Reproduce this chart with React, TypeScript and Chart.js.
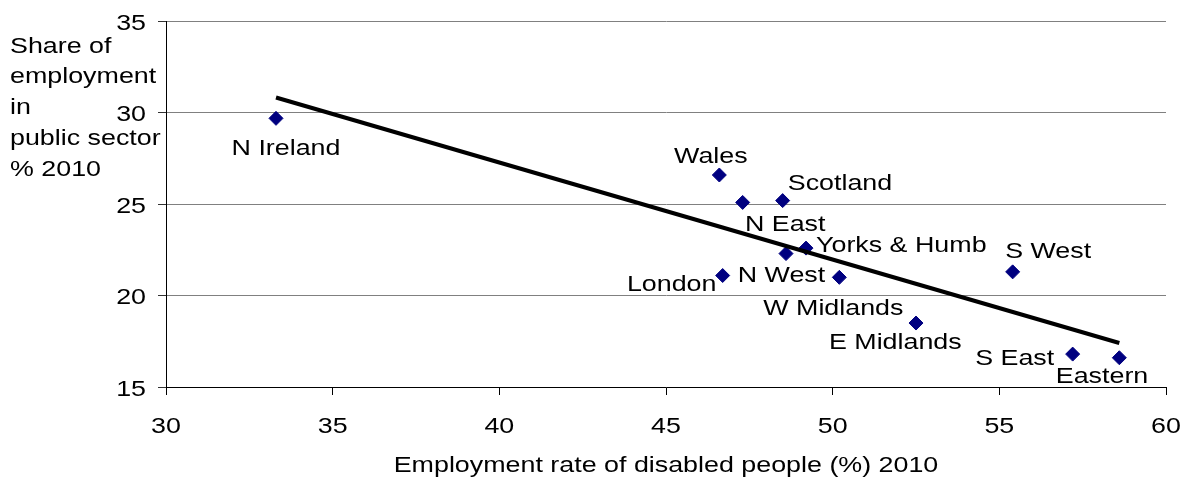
import React, { useEffect, useRef } from 'react';
import { Chart, registerables } from 'chart.js';

Chart.register(...registerables);

// ---- data ----
const regions = ['N Ireland', 'Wales', 'N East', 'Scotland', 'Yorks & Humb', 'N West', 'London', 'W Midlands', 'S West', 'E Midlands', 'S East', 'Eastern'];
const disabledEmploymentRate = [33.3, 46.6, 47.3, 48.5, 49.2, 48.6, 46.7, 50.2, 55.4, 52.5, 57.2, 58.6];
const publicSectorShare = [29.7, 26.6, 25.1, 25.2, 22.6, 22.3, 21.1, 21.0, 21.3, 18.5, 16.8, 16.6];
const xTickValues = [30, 35, 40, 45, 50, 55, 60];
const yTickValues = [15, 20, 25, 30, 35];
const yTitleLines = ['Share of', 'employment', 'in', 'public sector', '% 2010'];
const xTitle = 'Employment rate of disabled people (%) 2010';

// ---- label placement (px offsets of label centre from its point) ----
const labelOffsets: [number, number][] = [
  [10, 31], [-8.5, -18], [42.5, 22.4], [57.3, -17], [95.3, -2.3], [-4.5, 22.5],
  [-51, 9.3], [-6, 31.3], [35.5, -19.8], [-20.7, 20.1], [-58, 4.4], [-17.3, 19.4],
];

const FONT = '22px "Liberation Sans", Arial, sans-serif';
const SX = 1.22; // horizontal text stretch seen in the reference

function linearFit(xs: number[], ys: number[]) {
  const n = xs.length;
  const mx = xs.reduce((a, b) => a + b, 0) / n;
  const my = ys.reduce((a, b) => a + b, 0) / n;
  let sxy = 0, sxx = 0;
  for (let i = 0; i < n; i++) {
    sxy += (xs[i] - mx) * (ys[i] - my);
    sxx += (xs[i] - mx) * (xs[i] - mx);
  }
  const slope = sxy / sxx;
  return { slope, intercept: my - slope * mx };
}

function drawText(ctx: CanvasRenderingContext2D, text: string, x: number, y: number, align: CanvasTextAlign) {
  ctx.save();
  ctx.translate(x, y);
  ctx.scale(SX, 1);
  ctx.font = FONT;
  ctx.fillStyle = '#000';
  ctx.textAlign = align;
  ctx.textBaseline = 'middle';
  ctx.fillText(text, 0, 0);
  ctx.restore();
}

const textPlugin = {
  id: 'textPlugin',
  afterDraw(chart: any) {
    const ctx = chart.ctx as CanvasRenderingContext2D;
    const xs = chart.scales.x;
    const ys = chart.scales.y;
    const area = chart.chartArea;
    // tick labels
    yTickValues.forEach((v) => drawText(ctx, String(v), area.left - 20, ys.getPixelForValue(v) + 2.5, 'right'));
    xTickValues.forEach((v) => drawText(ctx, String(v), xs.getPixelForValue(v), area.bottom + 39.5, 'center'));
    // axis titles
    yTitleLines.forEach((t, i) => drawText(ctx, t, 10, 46.5 + i * 30.8, 'left'));
    drawText(ctx, xTitle, (area.left + area.right) / 2, area.bottom + 79, 'center');
    // data labels
    regions.forEach((name, i) => {
      const px = xs.getPixelForValue(disabledEmploymentRate[i]);
      const py = ys.getPixelForValue(publicSectorShare[i]);
      const [dx, dy] = labelOffsets[i];
      drawText(ctx, name, px + dx, py + dy, 'center');
    });
  },
};

export default function App() {
  const ref = useRef<HTMLCanvasElement>(null);

  useEffect(() => {
    if (!ref.current) return;
    const fit = linearFit(disabledEmploymentRate, publicSectorShare);
    const minX = Math.min(...disabledEmploymentRate);
    const maxX = Math.max(...disabledEmploymentRate);

    const chart = new Chart(ref.current, {
      type: 'scatter',
      data: {
        datasets: [
          {
            label: 'Regions',
            data: disabledEmploymentRate.map((x, i) => ({ x, y: publicSectorShare[i] })),
            pointStyle: 'rectRot',
            pointRadius: 7,
            backgroundColor: '#000080',
            borderColor: '#000080',
            borderWidth: 1,
            order: 2,
          },
          {
            type: 'line',
            label: 'Trend',
            data: [
              { x: minX, y: fit.intercept + fit.slope * minX },
              { x: maxX, y: fit.intercept + fit.slope * maxX },
            ],
            borderColor: '#000',
            borderWidth: 4,
            pointRadius: 0,
            fill: false,
            order: 1,
          } as any,
        ],
      },
      options: {
        animation: false,
        responsive: false,
        layout: { padding: { left: 0, right: 24, top: 21.5, bottom: 0 } },
        plugins: { legend: { display: false }, tooltip: { enabled: false } },
        scales: {
          x: {
            type: 'linear',
            min: 30,
            max: 60,
            ticks: { stepSize: 5, display: false },
            grid: { drawOnChartArea: false, drawTicks: true, tickLength: 8, tickColor: '#000', color: '#000' },
            border: { color: '#000', width: 1 },
            afterFit: (s: any) => { s.height = 92; },
          },
          y: {
            type: 'linear',
            min: 15,
            max: 35,
            ticks: { stepSize: 5, display: false },
            grid: { color: '#808080', lineWidth: 1, drawTicks: true, tickLength: 8, tickColor: '#333' },
            border: { color: '#000', width: 1 },
            afterFit: (s: any) => { s.width = 166; },
          },
        },
      },
      plugins: [textPlugin],
    });
    return () => chart.destroy();
  }, []);

  return (
    <div style={{ position: 'fixed', left: 0, top: 0, width: 1190, height: 479, background: '#fff' }}>
      <canvas ref={ref} width={1190} height={479} />
    </div>
  );
}
